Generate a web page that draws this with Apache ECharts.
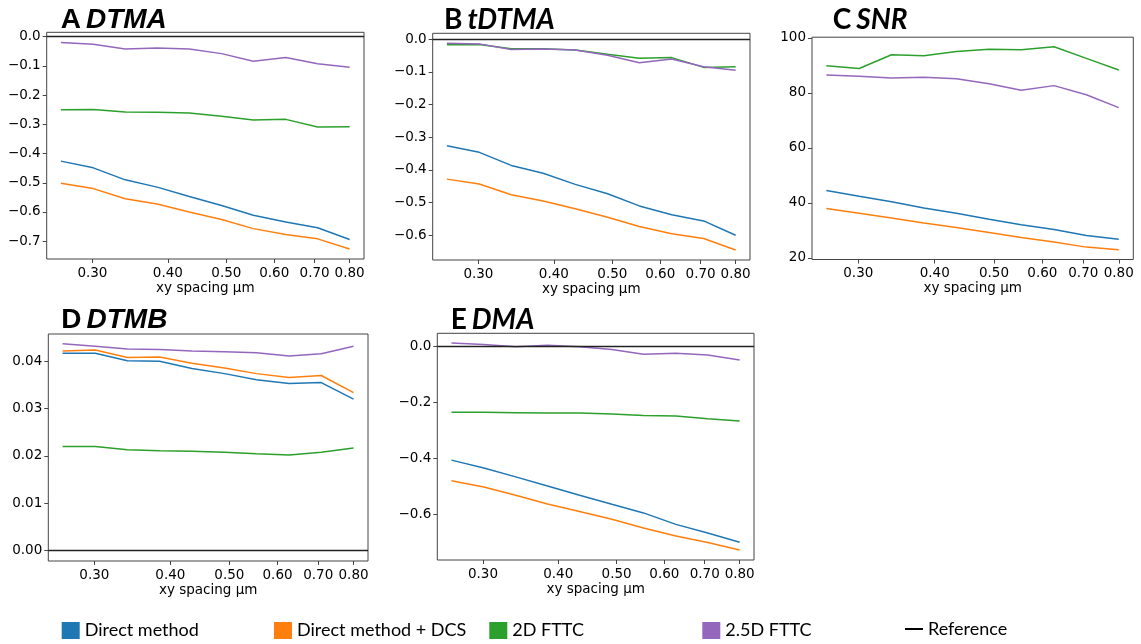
<!DOCTYPE html>
<html>
<head>
<meta charset="utf-8">
<script src="https://cdn.jsdelivr.net/npm/echarts@6/dist/echarts.min.js"></script>
<style>html,body{margin:0;padding:0;background:#fff}#chart{width:1141px;height:644px}</style>
</head>
<body>
<div id="chart"></div>
<script>
// ---- data ----
const xSpacing = [0.266, 0.301, 0.340, 0.384, 0.434, 0.491, 0.554, 0.627, 0.708, 0.800];
const xTicks = [0.30, 0.40, 0.50, 0.60, 0.70, 0.80];
const methods = ['Direct method', 'Direct method + DCS', '2D FTTC', '2.5D FTTC'];
const referenceName = 'Reference';
const referenceValue = 0;

// A DTMA
const dtmaDirect = [-0.426, -0.449, -0.490, -0.515, -0.547, -0.578, -0.611, -0.634, -0.654, -0.694];
const dtmaDCS    = [-0.502, -0.520, -0.555, -0.573, -0.600, -0.626, -0.657, -0.677, -0.692, -0.727];
const dtma2D     = [-0.250, -0.249, -0.258, -0.259, -0.261, -0.272, -0.285, -0.283, -0.309, -0.308];
const dtma25D    = [-0.020, -0.026, -0.042, -0.039, -0.042, -0.058, -0.084, -0.071, -0.093, -0.105];
const dtmaTicks  = [0.0, -0.1, -0.2, -0.3, -0.4, -0.5, -0.6, -0.7];

// B tDTMA
const tdtmaDirect = [-0.326, -0.346, -0.386, -0.410, -0.444, -0.473, -0.510, -0.537, -0.556, -0.600];
const tdtmaDCS    = [-0.428, -0.443, -0.476, -0.495, -0.519, -0.545, -0.573, -0.595, -0.610, -0.645];
const tdtma2D     = [-0.017, -0.016, -0.029, -0.029, -0.033, -0.046, -0.058, -0.056, -0.086, -0.084];
const tdtma25D    = [-0.012, -0.014, -0.031, -0.030, -0.033, -0.049, -0.072, -0.060, -0.084, -0.095];
const tdtmaTicks  = [0.0, -0.1, -0.2, -0.3, -0.4, -0.5, -0.6];

// C SNR
const snrDirect = [44.5, 42.4, 40.4, 38.1, 36.2, 34.0, 32.0, 30.3, 28.1, 26.8];
const snrDCS    = [37.9, 36.2, 34.5, 32.7, 31.0, 29.2, 27.4, 25.8, 23.9, 22.9];
const snr2D     = [89.8, 88.8, 93.8, 93.5, 95.0, 95.8, 95.6, 96.7, 92.5, 88.3];
const snr25D    = [86.5, 86.0, 85.4, 85.6, 85.1, 83.3, 80.9, 82.6, 79.3, 74.6];
const snrTicks  = [20, 40, 60, 80, 100];

// D DTMB
const dtmbDirect = [0.0417, 0.0417, 0.0401, 0.0400, 0.0385, 0.0374, 0.0361, 0.0353, 0.0355, 0.0320];
const dtmbDCS    = [0.0422, 0.0424, 0.0408, 0.0409, 0.0396, 0.0386, 0.0374, 0.0366, 0.0370, 0.0334];
const dtmb2D     = [0.0220, 0.0220, 0.0213, 0.0211, 0.0210, 0.0208, 0.0205, 0.0202, 0.0208, 0.0217];
const dtmb25D    = [0.0437, 0.0432, 0.0426, 0.0425, 0.0422, 0.0420, 0.0418, 0.0411, 0.0416, 0.0432];
const dtmbTicks  = [0.00, 0.01, 0.02, 0.03, 0.04];

// E DMA
const dmaDirect = [-0.406, -0.434, -0.466, -0.499, -0.532, -0.564, -0.595, -0.636, -0.667, -0.700];
const dmaDCS    = [-0.480, -0.502, -0.532, -0.563, -0.590, -0.618, -0.649, -0.678, -0.701, -0.728];
const dma2D     = [-0.235, -0.235, -0.236, -0.237, -0.237, -0.241, -0.246, -0.248, -0.258, -0.266];
const dma25D    = [0.013, 0.008, 0.000, 0.005, 0.000, -0.010, -0.027, -0.023, -0.030, -0.048];
const dmaTicks  = [0.0, -0.2, -0.4, -0.6];

// ---- layout / style ----
const colors = ['#1f77b4', '#ff7f0e', '#2ca02c', '#9467bd'];
const panels = [
  {letter:'A', name:'DTMA', font:'Liberation Sans', data:[dtmaDirect, dtmaDCS, dtma2D, dtma25D], ticks:dtmaTicks, dec:1,
   min:-0.761, max:0.015, grid:{left:46.7, top:32.3, width:317.3, height:226.7}, title:{left:60.7, top:6}, ref:true},
  {letter:'B', name:'tDTMA', font:'Lato', data:[tdtmaDirect, tdtmaDCS, tdtma2D, tdtma25D], ticks:tdtmaTicks, dec:1,
   min:-0.6756, max:0.0184, grid:{left:432.7, top:33.3, width:317.3, height:226.7}, title:{left:444, top:6}, ref:true},
  {letter:'C', name:'SNR', font:'Lato', data:[snrDirect, snrDCS, snr2D, snr25D], ticks:snrTicks, dec:0,
   min:19.4, max:100.2, grid:{left:812, top:37.2, width:321.3, height:222.3}, title:{left:832.7, top:6}, ref:false},
  {letter:'D', name:'DTMB', font:'Liberation Sans', data:[dtmbDirect, dtmbDCS, dtmb2D, dtmb25D], ticks:dtmbTicks, dec:2,
   min:-0.00218, max:0.04577, grid:{left:48.3, top:334, width:319.7, height:227}, title:{left:61.3, top:306}, ref:true},
  {letter:'E', name:'DMA', font:'Lato', data:[dmaDirect, dmaDCS, dma2D, dma25D], ticks:dmaTicks, dec:1,
   min:-0.7636, max:0.048, grid:{left:437.3, top:333.3, width:316.7, height:226.7}, title:{left:450.7, top:306}, ref:true}
];
const legendLefts = [61.7, 274, 489.3, 702.3, 905];

const fmtY = dec => v => (v < 0 ? '\u2212' : '') + Math.abs(v).toFixed(dec);
const tickFont = {fontFamily:'DejaVu Sans', fontSize:13.5, color:'#000'};

const grids = [], xAxes = [], yAxes = [], titles = [], series = [];
panels.forEach((p, i) => {
  grids.push(Object.assign({show:true, borderColor:'#444', borderWidth:1, backgroundColor:'transparent', containLabel:false}, p.grid));
  xAxes.push({
    type:'log', logBase:10, gridIndex:i, min:0.252, max:0.845,
    axisLine:{show:false, onZero:false},
    axisTick:{show:true, inside:false, length:4, customValues:xTicks, lineStyle:{color:'#444', width:1}},
    minorTick:{show:false}, splitLine:{show:false}, minorSplitLine:{show:false},
    axisLabel:Object.assign({customValues:xTicks, margin:7, formatter:v => Number(v).toFixed(2)}, tickFont),
    name:'xy spacing \u00b5m', nameLocation:'middle', nameGap:22,
    nameTextStyle:{fontFamily:'DejaVu Sans', fontSize:13.5, color:'#000'}
  });
  yAxes.push({
    type:'value', gridIndex:i, min:p.min, max:p.max,
    axisLine:{show:false, onZero:false},
    axisTick:{show:true, inside:false, length:4, customValues:p.ticks, lineStyle:{color:'#444', width:1}},
    splitLine:{show:false},
    axisLabel:Object.assign({customValues:p.ticks, margin:6, formatter:fmtY(p.dec)}, tickFont)
  });
  titles.push({
    text:'{a|' + p.letter + '} {b|' + p.name + '}',
    left:p.title.left, top:p.title.top, padding:0,
    textStyle:{rich:{
      a:{fontFamily:p.font, fontWeight:'bold', fontSize:28, color:'#000'},
      b:{fontFamily:p.font, fontWeight:'bold', fontStyle:'italic', fontSize:28, color:'#000'}
    }}
  });
  p.data.forEach((vals, j) => {
    series.push({
      type:'line', name:methods[j], xAxisIndex:i, yAxisIndex:i,
      data:xSpacing.map((x, k) => [x, vals[k]]),
      showSymbol:false, symbol:'none', silent:true,
      lineStyle:{width:1.5, color:colors[j]}, itemStyle:{color:colors[j]}
    });
  });
  if (p.ref) {
    series.push({
      type:'line', name:referenceName, xAxisIndex:i, yAxisIndex:i, data:[],
      itemStyle:{color:'#000'}, lineStyle:{color:'#000'},
      markLine:{symbol:'none', silent:true, animation:false, label:{show:false},
        lineStyle:{color:'#222', width:1.3, type:'solid'}, data:[{yAxis:referenceValue}]}
    });
  }
});

const legendText = {fontFamily:'Lato', fontSize:18, color:'#000'};
const legends = methods.map((m, i) => ({
  data:[m], left:legendLefts[i], top:621.5, padding:0, icon:'rect',
  itemWidth:18, itemHeight:17, selectedMode:false, textStyle:legendText
}));
legends.push({
  data:[referenceName], left:legendLefts[4], top:620, padding:0, icon:'rect',
  itemWidth:18, itemHeight:2, selectedMode:false, textStyle:legendText
});

const chart = echarts.init(document.getElementById('chart'), null, {renderer:'canvas'});
chart.setOption({
  animation:false,
  backgroundColor:'#fff',
  title:titles,
  legend:legends,
  grid:grids,
  xAxis:xAxes,
  yAxis:yAxes,
  series:series
});
</script>
</body>
</html>
